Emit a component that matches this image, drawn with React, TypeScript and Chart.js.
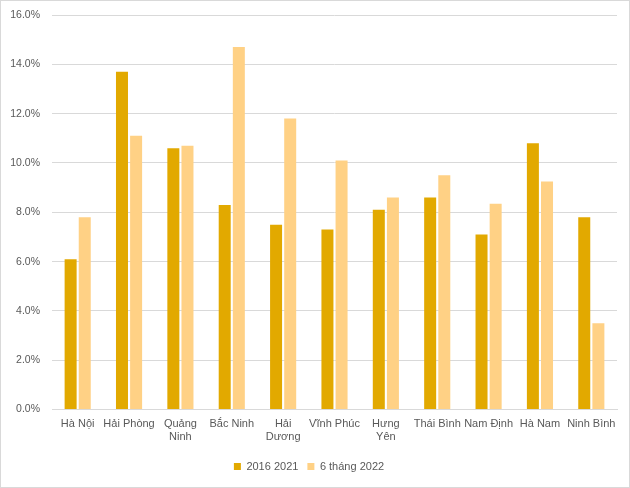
import React, { useEffect, useRef } from "react";
import { Chart, registerables } from "chart.js";

Chart.register(...registerables);

const categories: (string | string[])[] = [
  "Hà Nội",
  "Hải Phòng",
  ["Quảng", "Ninh"],
  "Bắc Ninh",
  ["Hải", "Dương"],
  "Vĩnh Phúc",
  ["Hưng", "Yên"],
  "Thái Bình",
  "Nam Định",
  "Hà Nam",
  "Ninh Bình",
];

const series2016_2021 = [6.1, 13.7, 10.6, 8.3, 7.5, 7.3, 8.1, 8.6, 7.1, 10.8, 7.8];
const series6m2022 = [7.8, 11.1, 10.7, 14.7, 11.8, 10.1, 8.6, 9.5, 8.35, 9.25, 3.5];

const seriesNames = ["2016 2021", "6 tháng 2022"];
const yTicks = [0, 2, 4, 6, 8, 10, 12, 14, 16];

const DARK = "#E2A900";
const LIGHT = "#FFD185";
const TEXT = "#595959";
const FONT = "'Liberation Sans', Arial, sans-serif";

export default function App() {
  const ref = useRef<HTMLCanvasElement | null>(null);

  useEffect(() => {
    document.body.style.margin = "0";
    if (!ref.current) return;
    const chart = new Chart(ref.current, {
      type: "bar",
      data: {
        labels: categories,
        datasets: [
          {
            label: seriesNames[0],
            data: series2016_2021,
            backgroundColor: DARK,
            categoryPercentage: 0.55,
            barPercentage: 0.85,
          },
          {
            label: seriesNames[1],
            data: series6m2022,
            backgroundColor: LIGHT,
            categoryPercentage: 0.55,
            barPercentage: 0.85,
          },
        ],
      },
      options: {
        responsive: false,
        animation: false,
        devicePixelRatio: 1,
        layout: { padding: { top: 0, right: 12, left: 0, bottom: 5 } },
        plugins: {
          tooltip: { enabled: false },
          legend: {
            position: "bottom",
            labels: {
              boxWidth: 7,
              boxHeight: 7,
              padding: 9,
              color: TEXT,
              font: { family: FONT, size: 11 },
            },
          },
        },
        scales: {
          x: {
            grid: { display: false, drawTicks: false },
            border: { color: "#d9d9d9" },
            ticks: {
              color: TEXT,
              font: { family: FONT, size: 11 },
              maxRotation: 0,
              minRotation: 0,
              autoSkip: false,
              padding: 8,
            },
          },
          y: {
            min: 0,
            max: 16,
            afterBuildTicks: (axis: any) => {
              axis.ticks = yTicks.map((v) => ({ value: v }));
            },
            afterFit: (axis: any) => {
              axis.width = 51;
              axis.paddingTop = 14;
            },
            grid: { color: "#d9d9d9", drawTicks: false },
            border: { display: false },
            ticks: {
              color: TEXT,
              font: { family: FONT, size: 10.5 },
              padding: 12,
              callback: (v: any) => Number(v).toFixed(1) + "%",
            },
          },
        },
      },
    });
    return () => chart.destroy();
  }, []);

  return (
    <div
      style={{
        position: "fixed",
        left: 0,
        top: 0,
        width: 630,
        height: 488,
        boxSizing: "border-box",
        border: "1px solid #d9d9d9",
        background: "#fff",
      }}
    >
      <canvas ref={ref} width={628} height={486} />
    </div>
  );
}
